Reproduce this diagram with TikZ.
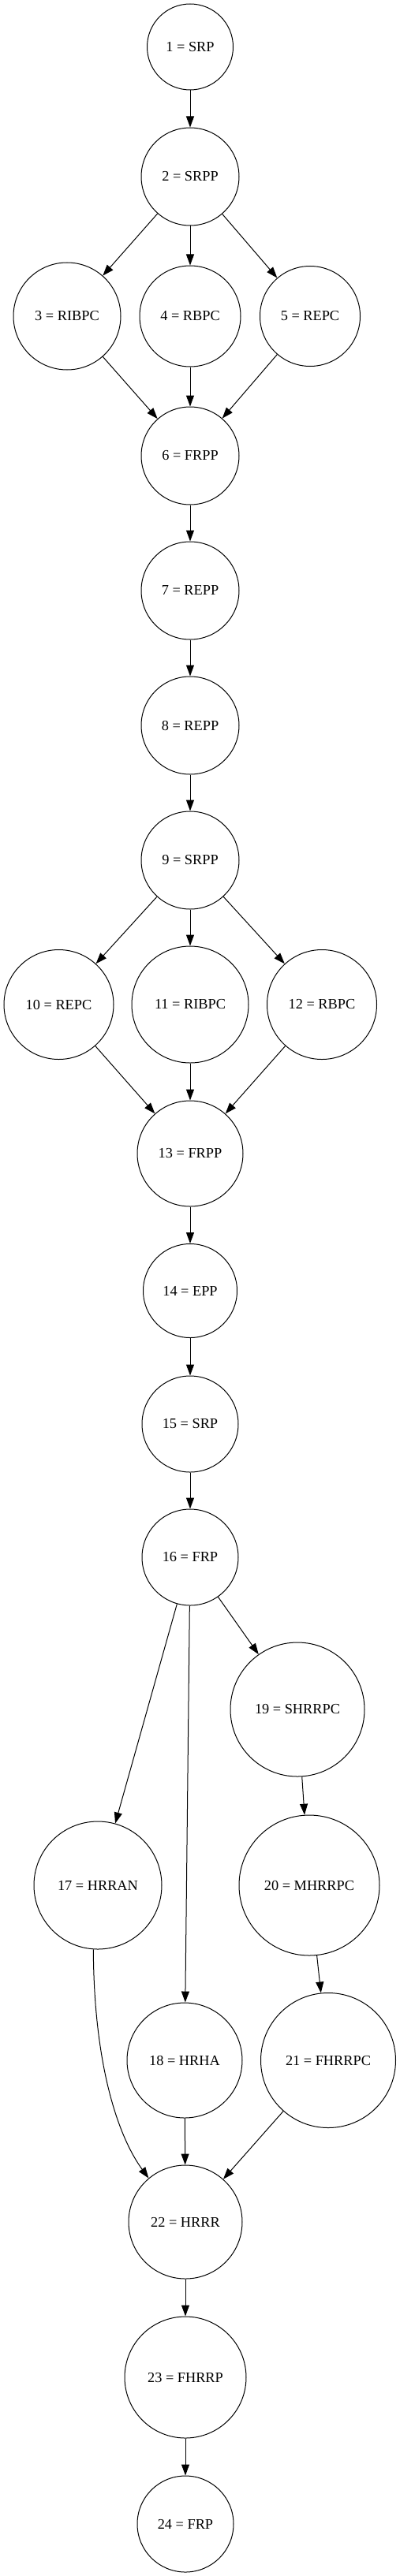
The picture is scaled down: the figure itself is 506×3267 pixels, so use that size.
\documentclass[tikz,border=0pt]{standalone}
\usepackage{fontspec}
\setmainfont{Liberation Serif}
\usetikzlibrary{arrows.meta}

\begin{document}
\begin{tikzpicture}[x=1pt,y=-1pt,>={Triangle[length=14pt,width=10pt]},line width=1pt,
st/.style={circle,draw=black,inner sep=0pt,font=\fontsize{18.3}{22}\selectfont}]
\useasboundingbox (0,0) rectangle (506,3267);
\node[st,minimum size=109pt] (n1) at (241,59.5){1 = SRP};
\node[st,minimum size=124pt] (n2) at (241,224){2 = SRPP};
\node[st,minimum size=136pt] (n3) at (85,401){3 = RIBPC};\node[st,minimum size=128pt] (n4) at (241,401){4 = RBPC};\node[st,minimum size=127pt] (n5) at (393,401){5 = REPC};
\node[st,minimum size=124pt] (n6) at (241,578){6 = FRPP};
\node[st,minimum size=124pt] (n7) at (241,749){7 = REPP};
\node[st,minimum size=124pt] (n8) at (241,920){8 = REPP};
\node[st,minimum size=124pt] (n9) at (241,1091){9 = SRPP};
\node[st,minimum size=139pt] (n10) at (74.5,1274){10 = REPC};\node[st,minimum size=148pt] (n11) at (241,1274){11 = RIBPC};\node[st,minimum size=139pt] (n12) at (408,1274){12 = RBPC};
\node[st,minimum size=134pt] (n13) at (241,1463){13 = FRPP};
\node[st,minimum size=119pt] (n14) at (241,1637){14 = EPP};
\node[st,minimum size=122pt] (n15) at (241,1806){15 = SRP};
\node[st,minimum size=122pt] (n16) at (241,1975){16 = FRP};
\node[st,minimum size=170pt] (n19) at (377,2168){19 = SHRRPC};
\node[st,minimum size=162pt] (n17) at (124,2391){17 = HRRAN};\node[st,minimum size=178pt] (n20) at (392,2391){20 = MHRRPC};
\node[st,minimum size=146pt] (n18) at (234,2613){18 = HRHA};\node[st,minimum size=171pt] (n21) at (416,2613){21 = FHRRPC};
\node[st,minimum size=144pt] (n22) at (235,2818){22 = HRRR};
\node[st,minimum size=154pt] (n23) at (235,3015){23 = FHRRP};
\node[st,minimum size=122pt] (n24) at (235,3201){24 = FRP};
\draw[->](n1)--(n2);\draw[->](n2)--(n3);\draw[->](n2)--(n4);\draw[->](n2)--(n5);
\draw[->](n3)--(n6);\draw[->](n4)--(n6);\draw[->](n5)--(n6);
\draw[->](n6)--(n7);\draw[->](n7)--(n8);\draw[->](n8)--(n9);
\draw[->](n9)--(n10);\draw[->](n9)--(n11);\draw[->](n9)--(n12);
\draw[->](n10)--(n13);\draw[->](n11)--(n13);\draw[->](n12)--(n13);
\draw[->](n13)--(n14);\draw[->](n14)--(n15);\draw[->](n15)--(n16);
\draw[->](n16)--(n17);\draw[->](n16)--(n18);\draw[->](n16)--(n19);
\draw[->](n19)--(n20);\draw[->](n20)--(n21);
\draw[->](n17.266) .. controls (119,2620) and (150,2710) .. (n22.130);
\draw[->](n18)--(n22);\draw[->](n21)--(n22);
\draw[->](n22)--(n23);\draw[->](n23)--(n24);
\end{tikzpicture}
\end{document}
